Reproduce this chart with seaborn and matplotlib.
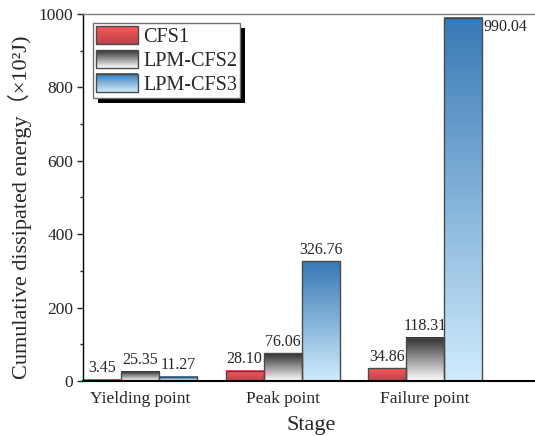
import numpy as np
import pandas as pd
import matplotlib
matplotlib.use("Agg")
import matplotlib.pyplot as plt
import seaborn as sns
from matplotlib.colors import LinearSegmentedColormap, to_rgb
from matplotlib.patches import Rectangle
from matplotlib.legend_handler import HandlerBase
from matplotlib.ticker import MultipleLocator

# Cumulative dissipated energy (x10^2 J) at each loading stage
stages = ["Yielding point", "Peak point", "Failure point"]
specimens = ["CFS1", "LPM-CFS2", "LPM-CFS3"]
cfs1 = [3.45, 28.10, 34.86]
lpm_cfs2 = [25.35, 76.06, 118.31]
lpm_cfs3 = [11.27, 326.76, 990.04]

# gradient colours (top, bottom) for each specimen
grad_top = ["#ff5656", "#2e2e2e", "#3879b5"]
grad_bottom = ["#b8434b", "#ffffff", "#d0ecfd"]
edge_color = "#4a4a4a"

sns.set_style("ticks")
plt.rcParams["font.family"] = ["Liberation Serif", "Noto Sans CJK SC", "DejaVu Sans"]

df = pd.DataFrame({
    "Stage": np.repeat(stages, len(specimens)),
    "Specimen": specimens * len(stages),
    "Energy": [v for trip in zip(cfs1, lpm_cfs2, lpm_cfs3) for v in trip],
})

fig = plt.figure(figsize=(5.35, 4.36), dpi=100)
ax = fig.add_axes([83 / 535, 1 - 381 / 436, 457 / 535, 367 / 436])

sns.barplot(data=df, x="Stage", y="Energy", hue="Specimen", order=stages,
            hue_order=specimens, errorbar=None, width=0.8, legend=False,
            ax=ax, saturation=1)

series = [cfs1, lpm_cfs2, lpm_cfs3]
for k, cont in enumerate(ax.containers):
    cmap = LinearSegmentedColormap.from_list(
        f"g{k}", [to_rgb(grad_bottom[k]), to_rgb(grad_top[k])])
    grad = np.linspace(0, 1, 256).reshape(-1, 1)
    for bar, val in zip(cont, series[k]):
        x0 = bar.get_x()
        w = bar.get_width()
        h = bar.get_height()
        ax.imshow(grad, extent=[x0, x0 + w, 0, h], origin="lower",
                  aspect="auto", cmap=cmap, zorder=1.5, interpolation="bilinear")
        bar.set_facecolor("none")
        bar.set_edgecolor(edge_color)
        bar.set_linewidth(1.0)
        bar.set_zorder(2)
        if val > 900:
            ax.annotate(f"{val:.2f}", xy=(x0 + w, h), xytext=(1, -1),
                        textcoords="offset points", ha="left", va="top",
                        fontsize=11.5)
        else:
            ax.annotate(f"{val:.2f}", xy=(x0 + w / 2, h), xytext=(0, 2.5),
                        textcoords="offset points", ha="center", va="bottom",
                        fontsize=11.5)

ax.set_xlim(-0.4, 2.807)
ax.set_ylim(0, 1000)
ax.yaxis.set_major_locator(MultipleLocator(200))
ax.yaxis.set_minor_locator(MultipleLocator(100))
ax.tick_params(axis="y", which="major", direction="out", length=4, width=1,
               labelsize=12.5, pad=3)
ax.tick_params(axis="y", which="minor", direction="out", length=2.5, width=1)
ax.tick_params(axis="x", length=0, labelsize=12.5, pad=7)

ax.spines["right"].set_visible(False)
ax.spines["top"].set_color("#808080")
ax.spines["top"].set_linewidth(1.0)
ax.spines["left"].set_linewidth(1.0)
ax.spines["bottom"].set_linewidth(1.5)
for s in ["left", "bottom"]:
    ax.spines[s].set_color("black")

ax.set_xlabel("Stage", fontsize=16, labelpad=7)
ax.set_ylabel("Cumulative dissipated energy（×10²J)", fontsize=16)
ax.yaxis.set_label_coords(-0.112, 0.473)


class GradientHandler(HandlerBase):
    def __init__(self, top, bottom):
        super().__init__()
        self.top = np.array(to_rgb(top))
        self.bottom = np.array(to_rgb(bottom))

    def create_artists(self, legend, orig_handle, xdescent, ydescent,
                       width, height, fontsize, trans):
        arts = []
        n = 30
        x0, y0 = -xdescent, -ydescent
        for i in range(n):
            t = (i + 0.5) / n
            c = self.bottom * (1 - t) + self.top * t
            r = Rectangle((x0, y0 + i * height / n), width, height / n + 0.3,
                          facecolor=c, edgecolor="none", transform=trans)
            arts.append(r)
        arts.append(Rectangle((x0, y0), width, height, facecolor="none",
                              edgecolor=edge_color, lw=1.0, transform=trans))
        return arts


handles = [Rectangle((0, 0), 1, 1) for _ in specimens]
handler_map = {h: GradientHandler(t, b) for h, t, b in zip(handles, grad_top, grad_bottom)}
leg = ax.legend(handles, specimens, handler_map=handler_map, loc="upper left",
                bbox_to_anchor=(10 / 457, (381 - 23) / 367), borderaxespad=0,
                fontsize=14.5, handlelength=2.1, handleheight=1.0,
                labelspacing=0.15, borderpad=0.15, handletextpad=0.25,
                fancybox=False, framealpha=1, edgecolor="#707070")
leg.get_frame().set_linewidth(1.0)
leg.set_zorder(5)

# drop shadow behind the legend box
fig.canvas.draw()
bb = leg.get_window_extent()
inv = ax.transAxes.inverted()
(sx0, sy0), (sx1, sy1) = inv.transform([(bb.x0 + 5, bb.y0 - 5), (bb.x1 + 5, bb.y1 - 5)])
ax.add_patch(Rectangle((sx0, sy0), sx1 - sx0, sy1 - sy0, transform=ax.transAxes,
                       facecolor="black", edgecolor="none", zorder=4.9, clip_on=False))

fig.savefig("out.png", dpi=100)
